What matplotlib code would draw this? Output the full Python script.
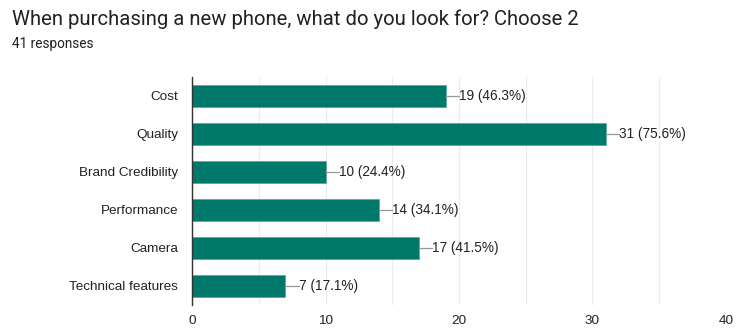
import matplotlib
matplotlib.use('Agg')
import matplotlib.pyplot as plt
import numpy as np

# survey answers, top to bottom
categories = ['Cost', 'Quality', 'Brand Credibility', 'Performance', 'Camera', 'Technical features']
counts = [19, 31, 10, 14, 17, 7]
percents = ['46.3%', '75.6%', '24.4%', '34.1%', '41.5%', '17.1%']
xticks = [0, 10, 20, 30, 40]

bar_color = '#00796b'
text_color = '#222222'

fig = plt.figure(figsize=(7.36, 3.30), dpi=100)
ax = fig.add_axes([0.2609, 0.0758, 0.7255, 0.6909])

y = np.arange(len(categories))
ax.barh(y, counts, height=0.6, color=bar_color, edgecolor='#5fa89c', linewidth=0.6, zorder=3)

# value labels with small leader line
for yi, c, p in zip(y, counts, percents):
    ax.plot([c, c + 1.0], [yi, yi], color='#999999', lw=0.9, zorder=3)
    ax.text(c + 1.0, yi, f'{c} ({p})', va='center', ha='left',
            fontsize=9.8, color=text_color, family='Liberation Sans')

ax.set_xlim(0, 40)
ax.set_ylim(len(categories) - 0.5, -0.5)
ax.set_yticks(y)
ax.set_yticklabels(categories, family='Liberation Sans', fontsize=9.7, color=text_color)
ax.set_xticks(xticks)
ax.set_xticklabels([str(t) for t in xticks], family='Liberation Sans', fontsize=9.7, color=text_color)
ax.set_xticks(np.arange(0, 41, 5), minor=True)
ax.grid(axis='x', which='both', color='#ebebeb', lw=0.8, zorder=0)
ax.tick_params(axis='both', which='both', length=0, pad=10)
ax.tick_params(axis='x', pad=7)
for s in ['top', 'right', 'bottom']:
    ax.spines[s].set_visible(False)
ax.spines['left'].set_color('#333333')
ax.spines['left'].set_linewidth(1.0)
ax.spines['left'].set_zorder(4)

fig.text(12 / 736, 1 - 19 / 330, 'When purchasing a new phone, what do you look for? Choose 2',
         fontsize=14.6, color='#202124', family='Roboto', va='center', ha='left')
fig.text(12 / 736, 1 - 44 / 330, '41 responses', fontsize=9.8, color='#202124',
         family='Roboto', va='center', ha='left')

fig.savefig('out.png', dpi=100, facecolor='white')
